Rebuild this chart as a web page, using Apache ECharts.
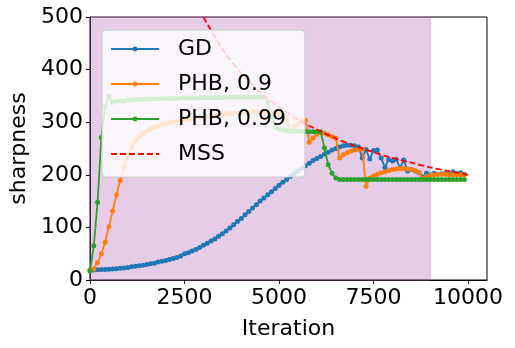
<!DOCTYPE html>
<html><head><meta charset="utf-8">
<script src="https://cdn.jsdelivr.net/npm/echarts@6/dist/echarts.min.js"></script>
<style>html,body{margin:0;padding:0;background:#fff}#c{width:515px;height:348px}</style>
</head><body><div id="c"></div>
<script>
const iterations = [0,100,200,300,400,500,600,700,800,900,1000,1100,1200,1300,1400,1500,1600,1700,1800,1900,2000,2100,2200,2300,2400,2500,2600,2700,2800,2900,3000,3100,3200,3300,3400,3500,3600,3700,3800,3900,4000,4100,4200,4300,4400,4500,4600,4700,4800,4900,5000,5100,5200,5300,5400,5500,5600,5700,5800,5900,6000,6100,6200,6300,6400,6500,6600,6700,6800,6900,7000,7100,7200,7300,7400,7500,7600,7700,7800,7900,8000,8100,8200,8300,8400,8500,8600,8700,8800,8900,9000,9100,9200,9300,9400,9500,9600,9700,9800,9900];

const gd = [19,19,19.5,20,20,20.5,21,21.5,22.5,23,
  24,25,26,27,28,29.5,31,32,34,35.5,
  37,39,41,43,45.5,50,52,55,58,62,
  66,70,74,78,83,88,93,99,105,111,
  117,124,130,137,143,150,156,162,168,174,
  180,186,191,197,202,207,212,217,222,227,
  231,235,239,243,247,250,253,255,256,256,
  255,253,232,248,230,246,247,232,214,229,
  226,229,213,228,207,210,207,204,196,203,
  200,203,201,202,203,201,206,202,204,201];

const phb09 = [19,21,33,50,72,101,131,162,189,214,
  236,253,264,272,278,283,287,290,293,295,
  297,299,301,302,304,305,306,307,308,309,
  310,311,312,313,314,315,316,316,317,318,
  318,319,319,320,320,320,320,320,320,318,
  315,310,304,283,292,298,302,303,262,270,
  277,281,279,276,273,270,232,238,242,245,
  247,248,249,178,194,198,201,204,206,208,
  210,211,212,212,211,210,208,205,193,197,
  199,200,201,201,201,200,200,200,200,200];

const phb099 = [17,65,148,271,330,350,338,340,341,341,
  342,342,343,343,343,344,344,344,344,345,
  345,345,345,345,346,346,346,346,346,346,
  347,347,347,347,347,347,348,348,348,348,
  348,348,348,348,348,348,347,338,310,291,
  287,285,284,283,283,283,282,282,282,282,
  282,282,251,219,203,194,191,191,191,191,
  191,191,191,191,191,191,191,191,191,191,
  191,191,191,191,191,191,191,191,191,191,
  191,191,191,191,191,191,191,191,191,191];

const mssIterations = [2900,3000,3500,4000,4500,5000,5500,6000,6500,7000,7500,8000,8500,9000,9500,10000];
const mss = [515,500,439,393,357,329,305,286,269,255,243,232,223,214,207,200];

const xTicks = [0,2500,5000,7500,10000];
const yTicks = [0,100,200,300,400,500];
const shadeRange = [0,9000];
const seriesNames = ['GD','PHB, 0.9','PHB, 0.99','MSS'];

const pairs = (xs, ys) => xs.map((x, i) => [x, ys[i]]);
const font = 'DejaVu Sans';

const chart = echarts.init(document.getElementById('c'), null, {renderer:'canvas'});
const mkLine = (name, data, color, z) => ({
  name, type:'line', data, z, symbol:'circle', symbolSize:5, showSymbol:true,
  lineStyle:{width:1.8, color}, itemStyle:{color}, animation:false
});
chart.setOption({
  animation:false,
  grid:{left:90, right:28, top:17, bottom:68, show:true, borderColor:'#000', borderWidth:1, backgroundColor:'transparent'},
  legend:{
    data: seriesNames.map(n => n === 'MSS' ? {name:n, itemStyle:{opacity:0}} : n),
    orient:'vertical', left:102, top:30, z:50,
    itemWidth:48, itemHeight:6, itemGap:13,
    padding:[8,19,12,8],
    backgroundColor:'rgba(255,255,255,0.8)', borderColor:'#cccccc', borderWidth:1, borderRadius:4,
    textStyle:{fontSize:22, fontFamily:font, color:'#000', padding:[0,0,0,14]}
  },
  xAxis:{
    type:'value', min:xTicks[0], max:10500, interval:xTicks[1]-xTicks[0],
    axisLine:{show:true, lineStyle:{color:'#000', width:1}},
    axisTick:{show:true, length:4, lineStyle:{color:'#000'}},
    axisLabel:{fontSize:22, color:'#000', fontFamily:font, margin:7, showMaxLabel:false,
      formatter: v => xTicks.includes(v) ? String(v) : ''},
    splitLine:{show:false},
    name:'Iteration', nameLocation:'middle', nameGap:38,
    nameTextStyle:{fontSize:22, color:'#000', fontFamily:font}
  },
  yAxis:{
    type:'value', min:yTicks[0], max:yTicks[yTicks.length-1], interval:yTicks[1]-yTicks[0],
    axisLine:{show:true, lineStyle:{color:'#000', width:1}},
    axisTick:{show:true, length:4, lineStyle:{color:'#000'}},
    axisLabel:{fontSize:22, color:'#000', fontFamily:font, margin:7},
    splitLine:{show:false},
    name:'sharpness', nameLocation:'middle', nameGap:58,
    nameTextStyle:{fontSize:22, color:'#000', fontFamily:font}
  },
  series:[
    {type:'line', data:[[0,0]], z:1, symbol:'none', silent:true, lineStyle:{opacity:0},
     markArea:{silent:true, itemStyle:{color:'rgba(128,0,128,0.2)', borderColor:'rgba(200,120,200,0.5)', borderWidth:1},
       data:[[{xAxis:shadeRange[0]},{xAxis:shadeRange[1]}]]}},
    mkLine('GD', pairs(iterations, gd), '#1f77b4', 3),
    mkLine('PHB, 0.9', pairs(iterations, phb09), '#ff7f0e', 4),
    mkLine('PHB, 0.99', pairs(iterations, phb099), '#2ca02c', 5),
    {name:'MSS', type:'line', data:pairs(mssIterations, mss), z:6, symbol:'none', smooth:0.3, clip:true,
     lineStyle:{width:1.8, color:'#ff0000', type:[6,3]}, itemStyle:{color:'#ff0000'}, animation:false}
  ]
});
</script></body></html>
